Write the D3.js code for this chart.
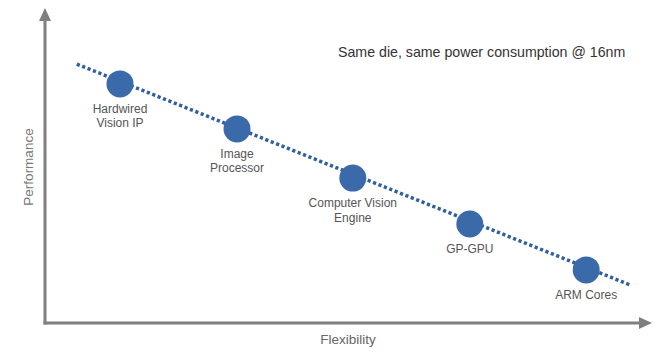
<!DOCTYPE html>
<html>
<head>
<meta charset="utf-8">
<script src="https://cdn.jsdelivr.net/npm/d3@7"></script>
<style>
  body { margin: 0; background: #fff; }
  text { font-family: "Liberation Sans", Arial, sans-serif; }
</style>
</head>
<body>
<div class="home"></div>
<script>
const width = 670;
const height = 358;

// data (0-100 relative units)
const names = [["Hardwired", "Vision IP"], ["Image", "Processor"], ["Computer Vision", "Engine"], ["GP-GPU"], ["ARM Cores"]];
const flexibility = [12.5, 32, 51.3, 70.8, 90.2];
const performance = [79.7, 64.7, 48.3, 33, 17.7];
const trendX = [5.3, 97.5];
const trendY = [86.3, 12.7];
const title = "Same die, same power consumption @ 16nm";
const xLabel = "Flexibility";
const yLabel = "Performance";

const svg = d3.select(".home").append("svg")
  .attr("width", width)
  .attr("height", height);

const x = d3.scaleLinear().domain([0, 100]).range([45, 645]);
const y = d3.scaleLinear().domain([0, 100]).range([323, 23]);

// axes with arrow heads
const axisColor = "#7f7f7f";
svg.append("line")
  .attr("x1", x(0)).attr("y1", y(0) + 1.5)
  .attr("x2", x(0)).attr("y2", 20)
  .style("stroke", axisColor).style("stroke-width", 3);
svg.append("path")
  .attr("d", `M${x(0)},8 L${x(0) - 6},21 L${x(0) + 6},21 Z`)
  .style("fill", axisColor);
svg.append("line")
  .attr("x1", x(0) - 1.5).attr("y1", y(0))
  .attr("x2", 640).attr("y2", y(0))
  .style("stroke", axisColor).style("stroke-width", 3);
svg.append("path")
  .attr("d", `M652,${y(0)} L639,${y(0) - 6} L639,${y(0) + 6} Z`)
  .style("fill", axisColor);

// dotted trend line
svg.append("line")
  .attr("x1", x(trendX[0])).attr("y1", y(trendY[0]))
  .attr("x2", x(trendX[1])).attr("y2", y(trendY[1]))
  .style("stroke", "#2f5f9f")
  .style("stroke-width", 3.5)
  .style("stroke-dasharray", "3.2,2.6");

// circles
svg.selectAll("circle.pt")
  .data(flexibility)
  .enter()
  .append("circle")
  .attr("class", "pt")
  .attr("cx", d => x(d))
  .attr("cy", (d, i) => y(performance[i]))
  .attr("r", 13.5)
  .style("fill", "#3b6aab");

// point labels
svg.selectAll("text.lbl")
  .data(flexibility)
  .enter()
  .append("text")
  .attr("class", "lbl")
  .attr("text-anchor", "middle")
  .style("font-size", "12px")
  .style("fill", "#555")
  .each(function (d, i) {
    const t = d3.select(this);
    names[i].forEach((s, j) => {
      t.append("tspan")
        .attr("x", x(d))
        .attr("y", y(performance[i]) + 29 + j * 14.5)
        .text(s);
    });
  });

// title and axis titles
svg.append("text")
  .attr("x", 338).attr("y", 57)
  .style("font-size", "14.2px")
  .style("fill", "#333")
  .text(title);

svg.append("text")
  .attr("x", 348).attr("y", 344)
  .attr("text-anchor", "middle")
  .style("font-size", "13.5px")
  .style("fill", "#666")
  .text(xLabel);

svg.append("text")
  .attr("transform", "translate(33,167) rotate(-90)")
  .attr("text-anchor", "middle")
  .style("font-size", "13.5px")
  .style("fill", "#777")
  .text(yLabel);
</script>
</body>
</html>
